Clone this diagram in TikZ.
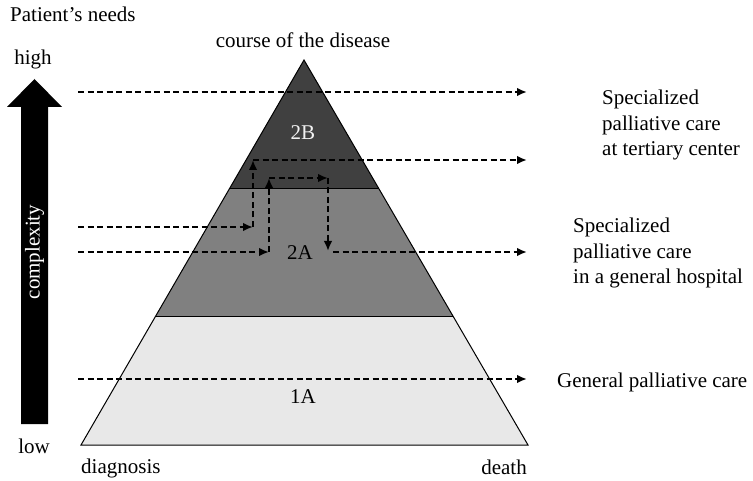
\documentclass[tikz,border=0pt]{standalone}
\usepackage{fontspec}
\setmainfont{Liberation Serif}
\usepackage{tikz}
\usetikzlibrary{arrows.meta}
\usetikzlibrary{calc}
\tikzset{flow/.style = {dash pattern=on 6pt off 3.5pt, line width=1.9pt,
                        -{Latex[length=10pt, width=8.5pt]}}}
\tikzset{lbl/.style = {inner sep = 0, font = \fontsize{21}{25.5}\selectfont}}
\definecolor{mdark}{gray}{0.25}
\definecolor{mmid}{gray}{0.5}
\definecolor{mlight}{gray}{0.91}

\begin{document}
\begin{tikzpicture}[x=1pt, y=-1pt]
    \useasboundingbox (0,0) rectangle (753,481);
    \coordinate (top) at (304,60);
    \coordinate (bl) at (81,445);
    \coordinate (br) at (528,445);
    \coordinate (l2B) at ($(top)!1/3!(bl)$);
    \coordinate (r2B) at ($(top)!1/3!(br)$);
    \coordinate (l2A) at ($(top)!2/3!(bl)$);
    \coordinate (r2A) at ($(top)!2/3!(br)$);
    \fill [mlight] (l2A) -- (bl) -- (br) -- (r2A) -- cycle;
    \fill [mmid] (l2B) -- (l2A) -- (r2A) -- (r2B) -- cycle;
    \fill [mdark] (top) -- (l2B) -- (r2B) -- cycle;
    \draw [line width=1pt] (top) -- (bl) -- (br) -- cycle;
    \draw [line width=1pt] (l2B) -- (r2B) (l2A) -- (r2A);
    \fill (21,424) -- (21,107) -- (7,107) -- (34.5,79) -- (62,107) -- (48,107) -- (48,424) -- cycle;
    \node [lbl, white, rotate=90] (cplx) at (34.5,252) {complexity};
    \node [lbl, anchor=base west] (needs) at (10,22) {Patient’s needs};
    \node [lbl, anchor=base] (high) at (33,65) {high};
    \node [lbl, anchor=base] (low) at (34,453) {low};
    \node [lbl, anchor=base] (course) at (303,48) {course of the disease};
    \node [lbl, anchor=base west] (diag) at (81,473) {diagnosis};
    \node [lbl, anchor=base east] (death) at (527,474) {death};
    \node [lbl, anchor=base, gray!10] (n2B) at (303,140) {2B};
    \node [lbl, anchor=base] (n2A) at (300,260) {2A};
    \node [lbl, anchor=base] (n1A) at (303,403) {1A};
    \node [lbl, anchor=west, align=left] (tert) at (602,125) {Specialized\\palliative care\\at tertiary center};
    \node [lbl, anchor=west, align=left] (hosp) at (573,253) {Specialized\\palliative care\\in a general hospital};
    \node [lbl, anchor=base west] (gen) at (557,387) {General palliative care};
    \coordinate (in1) at (78,92);
    \coordinate (out1) at (527,92);
    \coordinate (in2) at (78,227);
    \coordinate (c2a) at (253,227);
    \coordinate (c2b) at (253,160);
    \coordinate (out2) at (527,160);
    \coordinate (in3) at (78,252);
    \coordinate (c3a) at (269,252);
    \coordinate (c3b) at (269,178);
    \coordinate (c3c) at (328,178);
    \coordinate (c3d) at (328,251);
    \coordinate (out3) at (527,252);
    \coordinate (in4) at (78,379);
    \coordinate (out4) at (527,379);
    \draw [flow] (in1) -- (out1);
    \draw [flow] (in2) -- (c2a);
    \draw [flow] (c2a) -- (c2b);
    \draw [flow] (c2b) -- (out2);
    \draw [flow] (in3) -- (c3a);
    \draw [flow] (c3a) -- (c3b);
    \draw [flow] (c3b) -- (c3c);
    \draw [flow] (c3c) -- (c3d);
    \draw [flow, shorten <=5pt] (c3d |- out3) -- (out3);
    \draw [flow] (in4) -- (out4);
\end{tikzpicture}
\end{document}
